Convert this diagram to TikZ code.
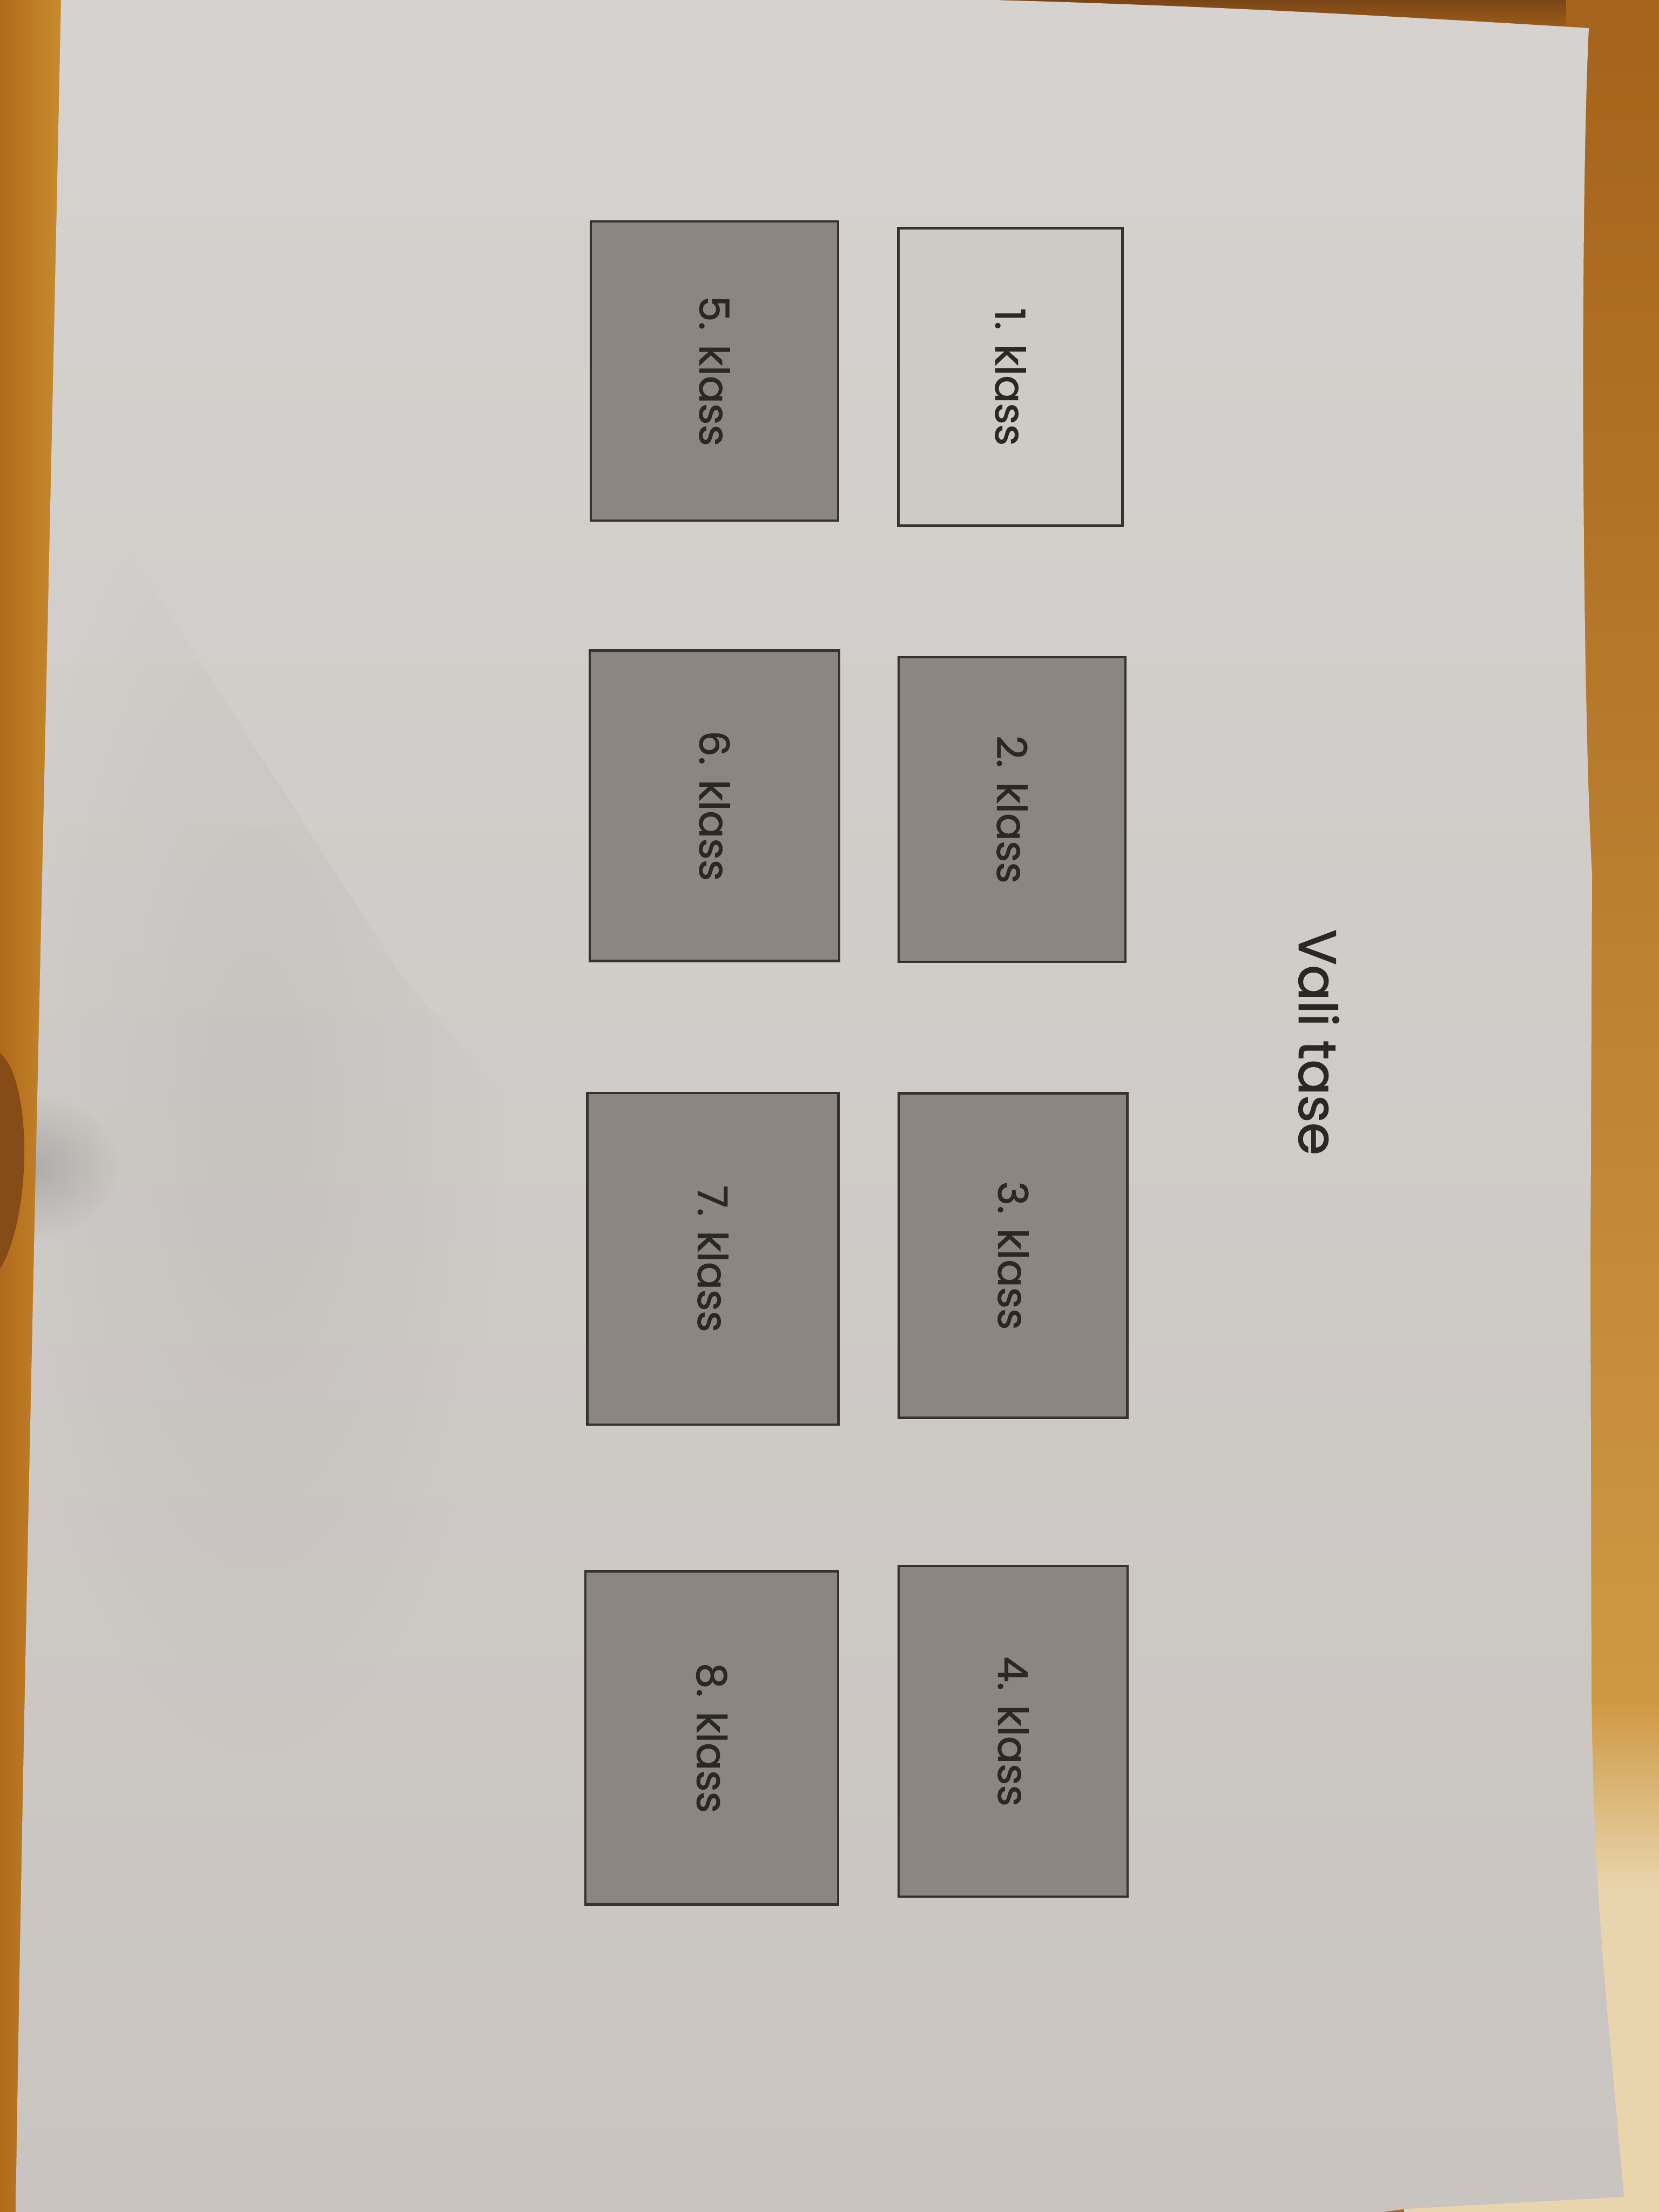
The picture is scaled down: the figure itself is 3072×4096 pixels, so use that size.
\documentclass[tikz,border=0pt]{standalone}
\usepackage{fontspec}
\setmainfont{Poppins}
\newfontfamily\printface{Poppins}[FakeBold=1.5]
\usetikzlibrary{fadings}
\tikzfading[name=foldfade, inner color=transparent!0, outer color=transparent!100]
\definecolor{woodleft}{HTML}{B06A1C}
\definecolor{woodlight}{HTML}{C98D2E}
\definecolor{wooddark}{HTML}{7A4516}
\definecolor{woodpale}{HTML}{E8D5AE}
\definecolor{papertop}{HTML}{D5D2CF}
\definecolor{paperbot}{HTML}{C9C4C0}
\definecolor{cardgray}{HTML}{8B8681}
\definecolor{cardline}{HTML}{37322E}
\definecolor{inktext}{HTML}{2B2724}
\tikzset{
  card/.style={draw=cardline, line width=0.45mm, fill=cardgray, rotate=-90,
    inner sep=0pt, text=inktext, font=\printface\fontsize{21.5}{24}\selectfont},
  cardopen/.style={card, fill=paperbot!60!papertop},
  heading/.style={rotate=-90, text=inktext, inner sep=0pt,
    font=\printface\fontsize{27.7}{32}\selectfont}
}
\begin{document}
\begin{tikzpicture}[x=0.1mm, y=-0.1mm]
  \useasboundingbox (0,0) rectangle (3072,4096);
  % table surface
  \fill[woodleft] (0,0) rectangle (3072,4096);
  \shade[left color=woodleft, right color=woodlight] (0,0) rectangle (120,4096);
  \fill[wooddark!80!woodleft] (0,1950) .. controls (60,2000) and (60,2250) .. (0,2350) -- cycle;
  \shade[top color=wooddark, bottom color=woodleft] (1800,0) rectangle (3072,80);
  \shade[top color=woodleft!80!wooddark, bottom color=woodlight!90!white] (2900,0) rectangle (3072,3150);
  \shade[top color=woodlight!90!white, bottom color=woodpale] (2900,3150) rectangle (3072,3500);
  \fill[woodpale] (2600,3500) rectangle (3072,4096);
  % sheet of paper
  \def\sheet{(113,0) -- (1842,0) .. controls (2200,10) and (2500,25) .. (2942,52)
    .. controls (2925,400) and (2930,1300) .. (2948,1619)
    -- (2945,2350) -- (2947,3133)
    .. controls (2950,3500) and (2975,3700) .. (3007,4068)
    -- (2605,4090) -- (2560,4096) -- (29,4096)
    .. controls (45,3000) and (80,1600) .. (113,0) -- cycle}
  \shade[top color=papertop, bottom color=paperbot] \sheet;
  \begin{scope}
    \clip \sheet;
    % soft fold shadow on the left
    \fill[black, opacity=0.045, path fading=foldfade]
      (98,797) -- (737,1793) -- (950,2050) -- (950,3300) -- (0,3300) -- (0,797) -- cycle;
    \shade[inner color=black!60, outer color=paperbot, opacity=0.3]
      (60,2160) ellipse (160 and 130);
  \end{scope}
  % heading
  \node[heading] (title) at (2442,1930) {Vali tase};
  % first column of cards
  \node[cardopen, minimum width=55.1mm, minimum height=41.5mm] (k1) at (1871,698) {1. klass};
  \node[card, minimum width=56.4mm, minimum height=42.0mm] (k2) at (1874,1499) {2. klass};
  \node[card, minimum width=60.1mm, minimum height=42.3mm] (k3) at (1876,2325) {3. klass};
  \node[card, minimum width=61.2mm, minimum height=42.4mm] (k4) at (1876,3206) {4. klass};
  % second column of cards
  \node[card, minimum width=55.4mm, minimum height=45.8mm] (k5) at (1323,687) {5. klass};
  \node[card, minimum width=57.5mm, minimum height=46.2mm] (k6) at (1323,1492) {6. klass};
  \node[card, minimum width=61.4mm, minimum height=46.5mm] (k7) at (1320,2331) {7. klass};
  \node[card, minimum width=61.7mm, minimum height=46.8mm] (k8) at (1318,3218) {8. klass};
\end{tikzpicture}
\end{document}
